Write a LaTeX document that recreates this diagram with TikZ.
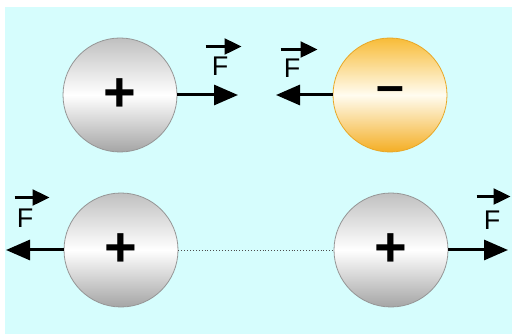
\documentclass[tikz,border=0pt]{standalone}
\usepackage{fontspec}
\setmainfont{Liberation Sans}
\usetikzlibrary{arrows.meta}
\definecolor{bg}{RGB}{214,253,253}
\definecolor{ballrim}{RGB}{150,150,150}
\definecolor{balltop}{RGB}{192,192,192}
\definecolor{ballbot}{RGB}{165,165,165}
\definecolor{orrim}{RGB}{232,168,40}
\definecolor{ortop}{RGB}{248,188,56}
\definecolor{ormid}{RGB}{255,252,240}
\definecolor{orbot}{RGB}{244,174,36}
\tikzset{
  ball/.style={circle, minimum size=114pt, inner sep=0pt, draw=ballrim, line width=0.8pt,
    top color=balltop, bottom color=ballbot, middle color=white,
    font=\fontsize{56}{56}\selectfont\bfseries},
  negball/.style={ball, draw=orrim, top color=ortop, bottom color=orbot, middle color=ormid,
    font=\fontsize{50}{50}\selectfont\bfseries},
  force/.style={line width=3pt, -{Triangle[length=24pt,width=20pt]}},
  vec/.style={line width=2.2pt, -{Triangle[length=17pt,width=16pt]}},
  flabel/.style={inner sep=0pt, font=\fontsize{27}{27}\selectfont},
  link/.style={dotted, line width=0.9pt, draw=black!70}
}
\begin{document}
\begin{tikzpicture}[x=1pt,y=-1pt]
\useasboundingbox (0,0) rectangle (512,334);
\fill[bg] (5,7) rectangle (512,334);

% top pair: attraction between opposite charges
\node[ball] (p1) at (120,95) {+};
\node[negball] (n1) at (390,95) {–};
\coordinate (t1) at (238,95);
\coordinate (t2) at (276,95);
\draw[force] (p1.east) -- (t1);
\draw[force] (n1.west) -- (t2);
\node[flabel] (f1) at (220,66) {F};
\node[flabel] (f2) at (292,68) {F};
\draw[vec] (f1.north west) ++(-6,-10) -- ++(36,0);
\draw[vec] (f2.north west) ++(-3,-9) -- ++(37,0);

% bottom pair: repulsion between like charges
\node[ball] (p3) at (121,250) {+};
\node[ball] (p4) at (391,250) {+};
\draw[link] (p3.east) -- (p4.west);
\coordinate (t3) at (6,250);
\coordinate (t4) at (508,250);
\draw[force] (p3.west) -- (t3);
\draw[force] (p4.east) -- (t4);
\node[flabel] (f3) at (25,218) {F};
\node[flabel] (f4) at (492,220) {F};
\draw[vec] (f3.north west) ++(-2,-11) -- ++(35,0);
\draw[vec] (f4.north west) ++(-7,-14) -- ++(34,0);
\end{tikzpicture}
\end{document}
